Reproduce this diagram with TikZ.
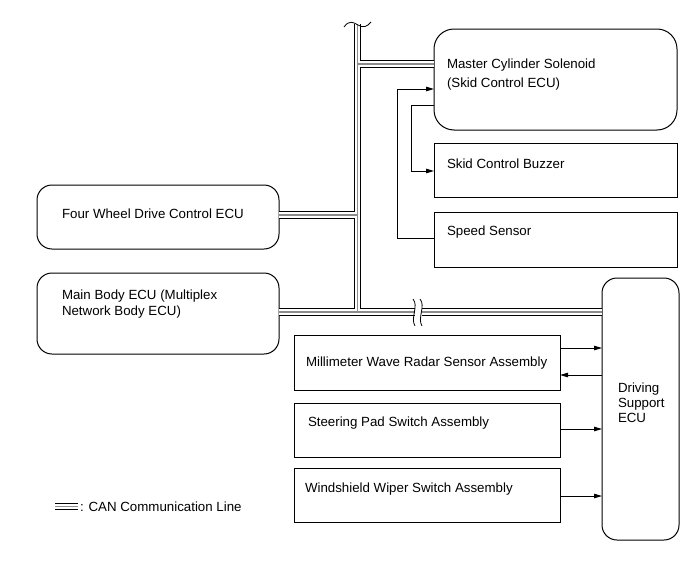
\documentclass[tikz,border=0pt]{standalone}
\usepackage{fontspec}
\setmainfont{Liberation Sans}
\usetikzlibrary{arrows.meta}
\begin{document}
\begin{tikzpicture}[x=1pt,y=-1pt,
  every node/.style={inner sep=0pt,outer sep=0pt},
  rbox/.style={draw,line width=1pt,rounded corners=15pt},
  sbox/.style={draw,line width=1pt},
  lbl/.style={anchor=base west,font=\fontsize{13.3}{16}\selectfont},
  conn/.style={line width=0.9pt},
  arr/.style={line width=0.9pt,-{Triangle[length=8pt,width=4.5pt]}},
  canA/.style={draw=black,line width=7.5pt},
  canB/.style={draw=white,line width=5.5pt},
  canC/.style={draw=black!45,line width=1.4pt}]
\useasboundingbox (0,0) rectangle (691,562);
% boxes
\node[rbox,rounded corners=20pt,minimum width=243pt,minimum height=101pt] (mc) at (555.5,79.5) {};
\node[sbox,minimum width=243pt,minimum height=54pt] (buz) at (555.5,170) {};
\node[sbox,minimum width=243pt,minimum height=55pt] (spd) at (555.5,239.5) {};
\node[rbox,minimum width=242pt,minimum height=64pt] (fwd) at (158,217) {};
\node[rbox,minimum width=242pt,minimum height=81pt] (mb) at (158,313.5) {};
\node[rbox,minimum width=77pt,minimum height=262pt] (ds) at (640.5,409) {};
\node[sbox,minimum width=266pt,minimum height=55pt] (mw) at (427,362.5) {};
\node[sbox,minimum width=266pt,minimum height=54pt] (sp) at (427,430) {};
\node[sbox,minimum width=266pt,minimum height=54pt] (ww) at (427,495) {};
% texts
\node[lbl] (t1) at (447,68) {Master Cylinder Solenoid};
\node[lbl] (t2) at (447,87) {(Skid Control ECU)};
\node[lbl] (t3) at (447,168) {Skid Control Buzzer};
\node[lbl] (t4) at (447,235) {Speed Sensor};
\node[lbl] (t5) at (62,218) {Four Wheel Drive Control ECU};
\node[lbl] (t6) at (62,299) {Main Body ECU (Multiplex};
\node[lbl] (t7) at (62,315) {Network Body ECU)};
\node[lbl] (t8) at (306,366) {Millimeter Wave Radar Sensor Assembly};
\node[lbl] (t9) at (308,426) {Steering Pad Switch Assembly};
\node[lbl] (t10) at (305,492) {Windshield Wiper Switch Assembly};
\node[lbl] (t11) at (618,392) {Driving};
\node[lbl] (t12) at (618,407) {Support};
\node[lbl] (t13) at (618,422) {ECU};
\node[lbl] (t14) at (80,511) {: CAN Communication Line};
% CAN lines
\coordinate (ttop) at (357.5,24);
\coordinate (tj1) at (357.5,64);
\coordinate (tj2) at (357.5,215);
\coordinate (tbot) at (357.5,312);
\coordinate (brk1) at (415,312);
\coordinate (brk2) at (422,312);
\coordinate (leg1) at (55,506.5);
\coordinate (leg2) at (78,506.5);
\foreach \st in {canA,canB,canC}{
  \path[\st] (ttop) -- (tbot)
    (tj1) -- (tj1 -| mc.west)
    (tj2 -| fwd.east) -- (tj2)
    (tbot -| mb.east) -- (brk1)
    (brk2) -- (tbot -| ds.west)
    (leg1) -- (leg2);
}
% break symbols
\draw[line width=0.8pt] (344,27) .. controls (349,20) and (353,22) .. (358,25) .. controls (363,28) and (367,27) .. (371,22);
\draw[line width=0.8pt] (413,299) .. controls (419,306) and (410,318) .. (415,326);
\draw[line width=0.8pt] (420,299) .. controls (426,306) and (417,318) .. (422,326);
% signal connectors
\coordinate (c1) at (397,238);
\coordinate (c2) at (397,89);
\coordinate (c3) at (411,105);
\coordinate (c4) at (411,171);
\draw[arr] (c1 -| spd.west) -- (c1) -- (c2) -- (c2 -| mc.west);
\draw[arr] (c3 -| mc.west) -- (c3) -- (c4) -- (c4 -| buz.west);
\coordinate (a1) at (580,348);
\coordinate (a2) at (580,375);
\coordinate (a3) at (580,429);
\coordinate (a4) at (580,496);
\draw[arr] (a1 -| mw.east) -- (a1 -| ds.west);
\draw[arr] (a2 -| ds.west) -- (a2 -| mw.east);
\draw[arr] (a3 -| sp.east) -- (a3 -| ds.west);
\draw[arr] (a4 -| ww.east) -- (a4 -| ds.west);
\end{tikzpicture}
\end{document}
